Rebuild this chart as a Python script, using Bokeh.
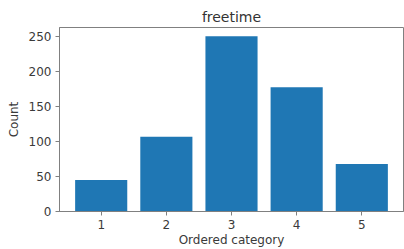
from bokeh.plotting import figure
from bokeh.models import Range1d, FixedTicker
from bokeh.embed import file_html
from bokeh.resources import INLINE

categories = [1, 2, 3, 4, 5]
counts = [45, 107, 251, 178, 68]
y_ticks = [0, 50, 100, 150, 200, 250]

FONT = "DejaVu Sans"
TXT = "#3a3a3a"
SPINE = "#808080"

p = figure(width=404, height=249, output_backend="svg", toolbar_location=None,
           x_range=Range1d(0.36, 5.64), y_range=Range1d(0, 263.55),
           min_border_left=59, min_border_right=1, min_border_top=27, min_border_bottom=38,
           title="freetime")
p.title.align = "center"
p.title.text_font = FONT
p.title.text_font_size = "14px"
p.title.text_font_style = "normal"
p.title.text_color = "#333333"
p.title.standoff = 5
p.title.offset = 0

p.vbar(x=categories, top=counts, width=0.8, bottom=0, fill_color="#1f77b4", line_color=None)

p.outline_line_color = SPINE
p.outline_line_width = 1
p.grid.visible = False
p.background_fill_color = "white"
p.border_fill_color = "white"

for ax in (p.xaxis[0], p.yaxis[0]):
    ax.axis_line_color = SPINE
    ax.axis_line_width = 1
    ax.major_tick_line_color = SPINE
    ax.major_tick_out = 4
    ax.major_tick_in = 0
    ax.minor_tick_line_color = None
    ax.major_label_text_font = FONT
    ax.major_label_text_font_size = "12px"
    ax.major_label_text_color = TXT
    ax.axis_label_text_font = FONT
    ax.axis_label_text_font_size = "12px"
    ax.axis_label_text_color = TXT
    ax.axis_label_text_font_style = "normal"

p.xaxis[0].ticker = FixedTicker(ticks=categories)
p.yaxis[0].ticker = FixedTicker(ticks=y_ticks)
p.xaxis[0].axis_label = "Ordered category"
p.yaxis[0].axis_label = "Count"
p.xaxis[0].major_label_standoff = 4
p.yaxis[0].major_label_standoff = 4
p.xaxis[0].axis_label_standoff = 1
p.yaxis[0].axis_label_standoff = 5

open("out.html", "w").write(file_html(p, INLINE))
